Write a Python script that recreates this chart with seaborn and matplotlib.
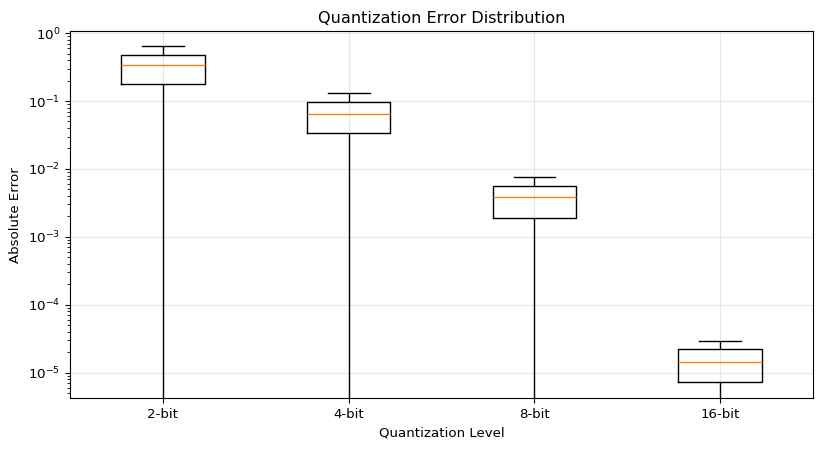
import pandas as pd
import numpy as np
import matplotlib
matplotlib.use('Agg')
import matplotlib.pyplot as plt
import seaborn as sns

# Box summary per quantization level
# (min, q1, median, q3, max) -- min runs below the axis, so 0
levels = ['2-bit', '4-bit', '8-bit', '16-bit']
err_2bit = [0.0, 0.176, 0.343, 0.481, 0.637]
err_4bit = [0.0, 0.0335, 0.0637, 0.0957, 0.130]
err_8bit = [0.0, 0.00188, 0.00384, 0.00557, 0.00757]
err_16bit = [0.0, 7.2e-6, 1.42e-5, 2.21e-5, 2.93e-5]

errors = [err_2bit, err_4bit, err_8bit, err_16bit]
df = pd.DataFrame({
    'level': np.repeat(levels, [len(e) for e in errors]),
    'error': np.concatenate(errors),
})

# reference text is a touch smaller than the mpl defaults
plt.rcParams['font.size'] = 9.6
plt.rcParams['axes.titlesize'] = 11.6

fig, ax = plt.subplots(figsize=(8.23, 4.49), dpi=100)
fig.subplots_adjust(left=0.085, right=0.988, top=0.93, bottom=0.114)

sns.boxplot(data=df, x='level', y='error', order=levels, ax=ax,
            width=0.45, fill=False, color='black', linewidth=1,
            medianprops={'color': '#ff7f0e', 'linewidth': 1})

# log scale after plotting so the stats stay in linear space
ax.set_yscale('log')
ax.set_ylim(4.25e-6, 1.06)
ax.set_xlim(-0.5, 3.5)
ax.grid(True, alpha=0.3)

ax.set_xlabel('Quantization Level')
ax.set_ylabel('Absolute Error')
ax.set_title('Quantization Error Distribution')

fig.savefig('out.png', dpi=100)
